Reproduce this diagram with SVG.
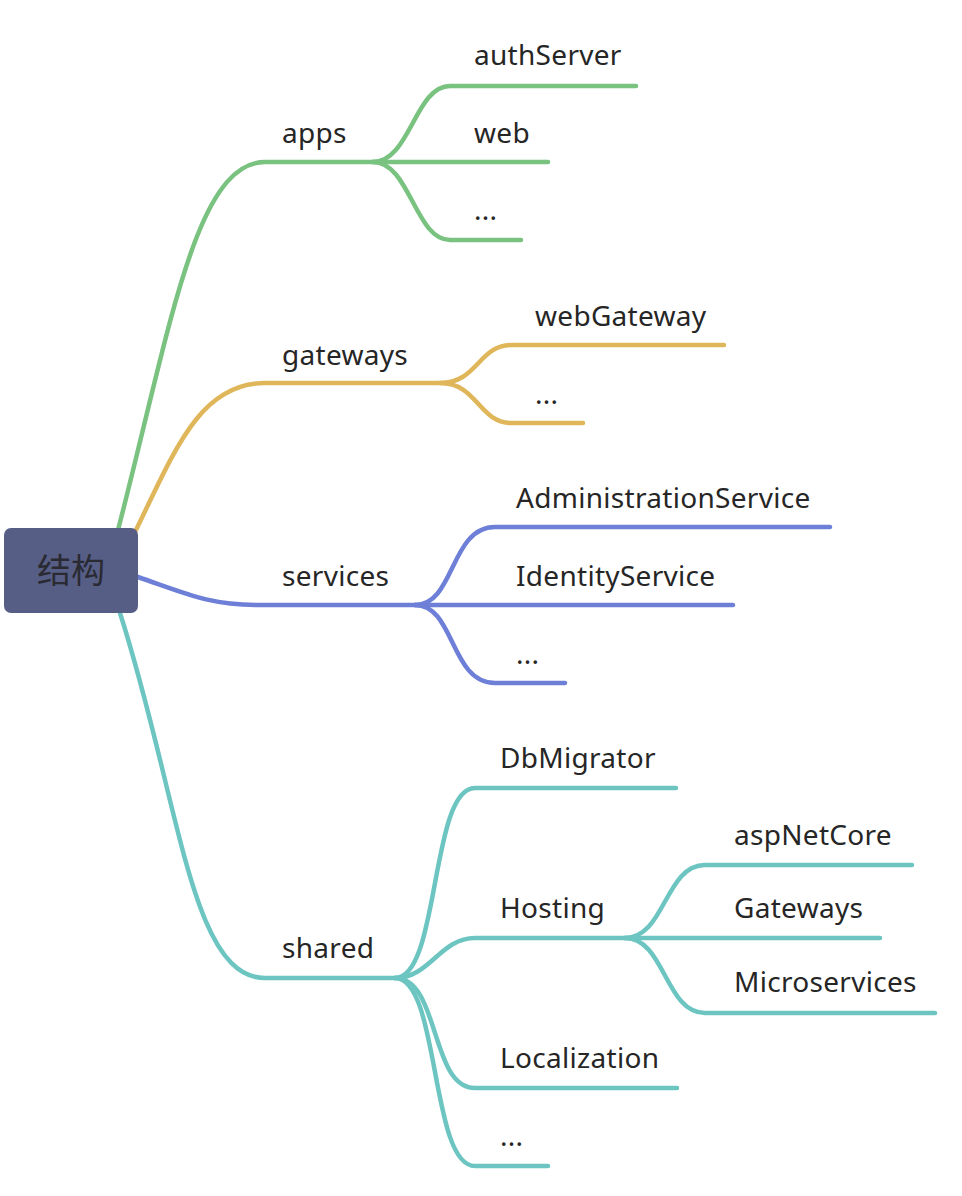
<svg xmlns="http://www.w3.org/2000/svg" width="962" height="1196" viewBox="0 0 962 1196">
<style>
.c{fill:none;stroke-width:4.5;stroke-linecap:round;stroke-linejoin:round}
.g{stroke:#79c280}.y{stroke:#e0b65a}.b{stroke:#6e7fd8}.t{stroke:#6dc5c2}
text{font-family:"Noto Sans","Open Sans","Liberation Sans",sans-serif;font-size:28px;letter-spacing:0.3px;fill:#262626}
.root{font-family:"Noto Sans CJK SC","Noto Sans",sans-serif;font-size:34px;letter-spacing:0;fill:#2a2a33;text-anchor:middle}
</style>
<rect width="962" height="1196" fill="#ffffff"/>
<g id="connectors">
<path class="c g" d="M118 530 C170 330,195 162,265 162 L373 162"/>
<path class="c y" d="M136 530 C175 450,200 383,265 383 L440 383"/>
<path class="c b" d="M138 577 C190 595,210 605,260 605 L415 605"/>
<path class="c t" d="M120 613 C180 800,190 978,265 978 L395 978"/>
<path class="c g" d="M373 162 C410 162,415 86,450 86 L636 86"/>
<path class="c g" d="M373 162 L548 162"/>
<path class="c g" d="M373 162 C410 162,415 240,450 240 L521 240"/>
<path class="c y" d="M440 383 C478 383,478 345,512 345 L724 345"/>
<path class="c y" d="M440 383 C478 383,478 423,512 423 L583 423"/>
<path class="c b" d="M415 605 C455 605,450 527,495 527 L830 527"/>
<path class="c b" d="M415 605 L733 605"/>
<path class="c b" d="M415 605 C455 605,450 683,495 683 L565 683"/>
<path class="c t" d="M395 978 C440 978,430 788,475 788 L676 788"/>
<path class="c t" d="M395 978 C430 978,440 938,475 938 L625 938"/>
<path class="c t" d="M395 978 C440 978,430 1088,475 1088 L677 1088"/>
<path class="c t" d="M395 978 C440 978,430 1166,475 1166 L548 1166"/>
<path class="c t" d="M625 938 C665 938,665 865,705 865 L912 865"/>
<path class="c t" d="M625 938 L880 938"/>
<path class="c t" d="M625 938 C665 938,665 1013,705 1013 L935 1013"/>
</g>
<g id="root"><rect x="4" y="528" width="134" height="85" rx="7" fill="#565e86"/><text class="root" x="71" y="583">结构</text></g>
<g id="apps"><text x="282" y="143">apps</text></g>
<g id="authServer"><text x="474" y="65">authServer</text></g>
<g id="web"><text x="474" y="143">web</text></g>
<g id="apps-more"><text x="474" y="220">...</text></g>
<g id="gateways"><text x="282" y="365">gateways</text></g>
<g id="webGateway"><text x="535" y="326">webGateway</text></g>
<g id="gateways-more"><text x="535" y="404">...</text></g>
<g id="services"><text x="282" y="586">services</text></g>
<g id="AdministrationService"><text x="516" y="508">AdministrationService</text></g>
<g id="IdentityService"><text x="516" y="586">IdentityService</text></g>
<g id="services-more"><text x="516" y="664">...</text></g>
<g id="shared"><text x="282" y="958">shared</text></g>
<g id="DbMigrator"><text x="500" y="768">DbMigrator</text></g>
<g id="Hosting"><text x="500" y="918">Hosting</text></g>
<g id="Localization"><text x="500" y="1068">Localization</text></g>
<g id="shared-more"><text x="500" y="1146">...</text></g>
<g id="aspNetCore"><text x="734" y="845">aspNetCore</text></g>
<g id="Gateways"><text x="734" y="918">Gateways</text></g>
<g id="Microservices"><text x="734" y="992">Microservices</text></g>
</svg>
